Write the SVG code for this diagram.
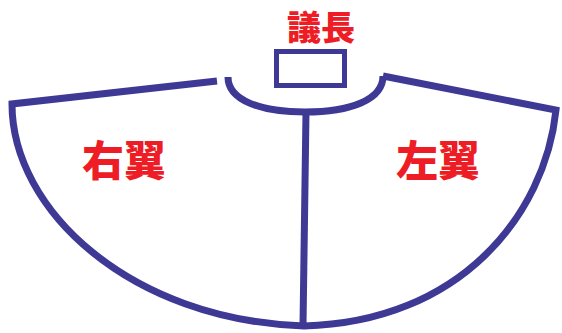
<svg xmlns="http://www.w3.org/2000/svg" width="562" height="333" viewBox="0 0 562 333">
<style>
.ln{fill:none;stroke:#3f3996;stroke-width:7;stroke-linecap:butt;stroke-linejoin:miter}
.lbl{fill:#ee1c25;font-family:"Noto Sans CJK JP","Noto Sans CJK SC",sans-serif;font-weight:900;text-anchor:middle}
</style>
<rect width="562" height="333" fill="#ffffff"/>
<g id="connectors">
<path class="ln" d="M217,81 L12,104 C12,210 130,320 304,326 C460,322 545,215 556,110 L383,76"/>
<path class="ln" d="M228,77 C228,100 260,112 305,112 C350,112 383,100 383,76"/>
<path class="ln" d="M306,112 L303,326"/>
</g>
<g id="chair">
<rect x="276.5" y="51.5" width="68" height="34" fill="none" stroke="#3f3996" stroke-width="5"/>
<text class="lbl" x="321" y="40" font-size="34">議長</text>
</g>
<g id="right-wing">
<text class="lbl" x="124" y="176" font-size="42">右翼</text>
</g>
<g id="left-wing">
<text class="lbl" x="438" y="176" font-size="42">左翼</text>
</g>
</svg>
